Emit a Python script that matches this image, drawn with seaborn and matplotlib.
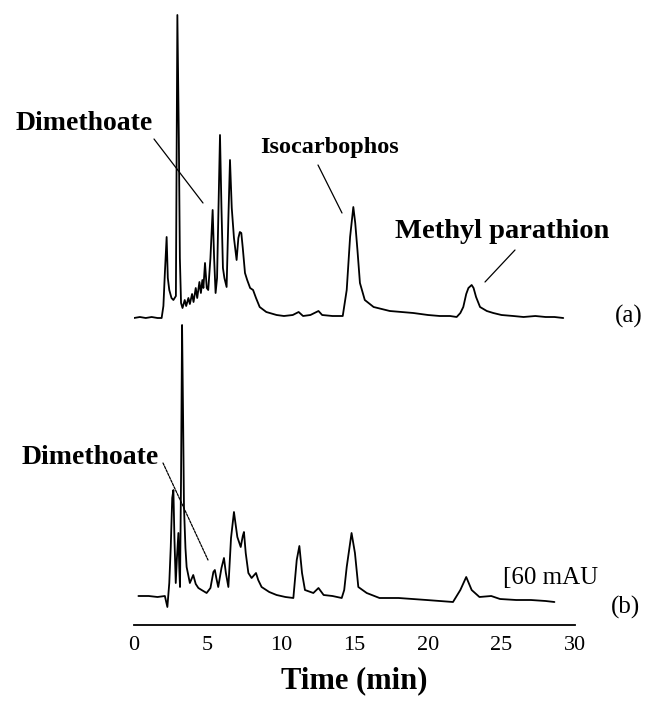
import numpy as np
import pandas as pd
import matplotlib
matplotlib.use("Agg")
import matplotlib.pyplot as plt
import seaborn as sns

# ----------------------------------------------------------
# Chromatogram data, signal in mAU
# ----------------------------------------------------------
time_a = [0.0, 0.4, 0.8, 1.2, 1.6, 1.88, 2.0, 2.1, 2.22, 2.3,
          2.4, 2.55, 2.68, 2.85, 2.95, 3.05, 3.12, 3.2, 3.3, 3.45,
          3.55, 3.7, 3.8, 3.95, 4.05, 4.2, 4.3, 4.45, 4.55, 4.65,
          4.72, 4.83, 4.95, 5.05, 5.2, 5.35, 5.45, 5.55, 5.65, 5.85,
          5.95, 6.05, 6.15, 6.3, 6.42, 6.53, 6.65, 6.8, 6.98, 7.1,
          7.2, 7.3, 7.4, 7.55, 7.7, 7.9, 8.1, 8.3, 8.55, 9.0,
          9.7, 10.2, 10.8, 11.2, 11.5, 12.0, 12.55, 12.8, 13.5, 14.2,
          14.47, 14.7, 14.92, 15.05, 15.2, 15.37, 15.7, 16.3, 17.4, 18.2,
          19.0, 20.0, 20.8, 21.5, 21.95, 22.2, 22.4, 22.6, 22.75, 22.97,
          23.1, 23.27, 23.54, 24.0, 24.44, 25.0, 25.8, 26.5, 27.3, 28.0,
          28.6, 29.2]
signal_a = [0, 3, 0, 3, 0, 0, 36, 135, 243, 120,
            84, 60, 54, 66, 909, 540, 180, 45, 30, 54,
            36, 60, 42, 72, 48, 90, 60, 108, 75, 114,
            90, 165, 90, 84, 180, 324, 180, 75, 120, 549,
            330, 150, 120, 93, 300, 474, 330, 240, 174, 240,
            258, 255, 210, 135, 114, 90, 84, 60, 33, 18,
            9, 6, 9, 18, 6, 9, 21, 9, 6, 6,
            84, 243, 333, 285, 204, 105, 54, 33, 21, 18,
            15, 9, 6, 6, 3, 15, 33, 72, 90, 99,
            90, 63, 33, 21, 15, 9, 6, 3, 6, 3,
            3, 0]

time_b = [0.3, 1.0, 1.6, 2.1, 2.27, 2.4, 2.5, 2.6, 2.68, 2.75,
          2.84, 2.92, 3.02, 3.08, 3.13, 3.2, 3.27, 3.34, 3.4, 3.5,
          3.58, 3.8, 4.03, 4.2, 4.38, 4.6, 4.94, 5.2, 5.4, 5.5,
          5.6, 5.73, 5.95, 6.12, 6.25, 6.42, 6.6, 6.8, 6.9, 7.03,
          7.26, 7.4, 7.48, 7.6, 7.78, 8.0, 8.3, 8.45, 8.68, 9.2,
          9.7, 10.3, 10.84, 11.07, 11.25, 11.43, 11.63, 12.2, 12.55, 12.9,
          13.5, 14.13, 14.3, 14.47, 14.8, 15.03, 15.26, 15.83, 16.7, 18.0,
          19.9, 21.7, 22.2, 22.6, 22.97, 23.5, 24.3, 24.9, 26.0, 27.0,
          28.0, 28.6]
signal_b = [6, 6, 3, 6, -27, 45, 153, 300, 324, 180,
            45, 120, 195, 90, 33, 360, 819, 540, 273, 150,
            93, 45, 69, 42, 30, 24, 15, 30, 78, 84,
            60, 33, 90, 120, 75, 33, 180, 258, 225, 183,
            153, 186, 198, 135, 75, 60, 75, 54, 33, 18,
            9, 3, 0, 114, 156, 75, 24, 15, 30, 9,
            6, 0, 24, 93, 195, 135, 33, 15, 0, 0,
            -6, -12, 24, 63, 24, 3, 6, -3, -6, -6,
            -9, -12]

offset_a = 921   # baseline of trace (a)
offset_b = 81    # baseline of trace (b)

trace_a = pd.DataFrame({"Time": time_a, "Signal": np.array(signal_a) + offset_a})
trace_b = pd.DataFrame({"Time": time_b, "Signal": np.array(signal_b) + offset_b})

# ----------------------------------------------------------
# Plot
# ----------------------------------------------------------
sns.set_style("white")
plt.rcParams["font.family"] = ["Liberation Serif", "DejaVu Serif"]
plt.rcParams["text.color"] = "black"
plt.rcParams["xtick.color"] = "black"
plt.rcParams["axes.labelcolor"] = "black"

fig = plt.figure(figsize=(6.46, 7.01), dpi=100)
ax = fig.add_axes([134 / 646, 76 / 701, 441 / 646, 625 / 701])

sns.lineplot(data=trace_a, x="Time", y="Signal", sort=False, estimator=None,
             color="black", lw=1.3, ax=ax)
sns.lineplot(data=trace_b, x="Time", y="Signal", sort=False, estimator=None,
             color="black", lw=1.3, ax=ax)

ax.set_xlim(0, 30)
ax.set_ylim(0, 1875)
ax.set_yticks([])
ax.set_ylabel("")
ax.set_xticks(range(0, 31, 5))
for side in ["left", "top", "right"]:
    ax.spines[side].set_visible(False)
ax.spines["bottom"].set_linewidth(1.3)
ax.spines["bottom"].set_color("black")
ax.tick_params(axis="x", direction="in", length=5, width=1.2,
               labelsize=16, pad=8, colors="black")
ax.set_xlabel("Time (min)", fontsize=22, fontweight="bold", labelpad=8,
              color="black")


def px(x, y):
    # pixel position in the figure -> data coordinates
    return ((x - 134) / 14.7, (625 - y) * 3)


line_kw = dict(arrowstyle="-", lw=0.9, color="black", shrinkA=0, shrinkB=0)

ax.text(*px(84, 123), "Dimethoate", ha="center", va="center",
        fontsize=20, fontweight="bold")
ax.annotate("", xy=px(203, 203), xytext=px(154, 139), arrowprops=line_kw)

ax.text(*px(330, 148), "Isocarbophos", ha="center", va="center",
        fontsize=17.5, fontweight="bold")
ax.annotate("", xy=px(342, 213), xytext=px(318, 165), arrowprops=line_kw)

ax.text(*px(502, 232), "Methyl parathion", ha="center", va="center",
        fontsize=20.5, fontweight="bold")
ax.annotate("", xy=px(485, 282), xytext=px(515, 250), arrowprops=line_kw)

ax.text(*px(629, 316), "(a)", ha="center", va="center", fontsize=18)

ax.text(*px(90, 457), "Dimethoate", ha="center", va="center",
        fontsize=20, fontweight="bold")
ax.annotate("", xy=px(208, 560), xytext=px(163, 463),
            arrowprops=dict(line_kw, linestyle=(0, (2, 1))))

ax.text(*px(503, 578), "[60 mAU", ha="left", va="center", fontsize=18)
ax.text(*px(625, 607), "(b)", ha="center", va="center", fontsize=18)

fig.savefig("out.png", dpi=100, facecolor="white")
